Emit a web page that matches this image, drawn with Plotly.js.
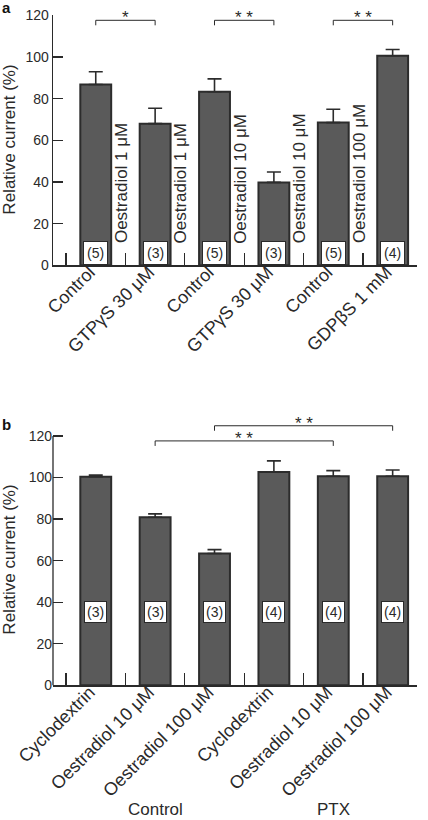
<!DOCTYPE html>
<html>
<head>
<meta charset="utf-8">
<script src="https://cdn.plot.ly/plotly-3.0.1.min.js"></script>
<style>html,body{margin:0;padding:0;background:#fff;}#chart{width:428px;height:820px;}</style>
</head>
<body>
<div id="chart"></div>
<script>
// ---- Panel a data ----
const catsA = ['Control', 'GTPγS 30 μM', 'Control', 'GTPγS 30 μM', 'Control', 'GDPβS 1 mM'];
const valsA = [86.8, 68.0, 83.3, 39.8, 68.5, 100.6];
const errA = [6.1, 7.4, 6.2, 5.0, 6.4, 3.0];
const nA = ['(5)', '(3)', '(5)', '(3)', '(5)', '(4)'];
const treatA = ['Oestradiol 1 μM', 'Oestradiol 1 μM', 'Oestradiol 10 μM', 'Oestradiol 10 μM', 'Oestradiol 100 μM', 'Oestradiol 100 μM'];
const sigFromA = [0, 2, 4];
const sigToA = [1, 3, 5];
const sigLevelA = [117.6, 117.6, 117.6];
const sigTextA = ['*', '* *', '* *'];

// ---- Panel b data ----
const catsB = ['Cyclodextrin', 'Oestradiol 10 μM', 'Oestradiol 100 μM', 'Cyclodextrin', 'Oestradiol 10 μM', 'Oestradiol 100 μM'];
const valsB = [100.4, 80.9, 63.4, 102.7, 100.6, 100.6];
const errB = [0.8, 1.6, 1.9, 5.3, 2.7, 3.0];
const nB = ['(3)', '(3)', '(3)', '(4)', '(4)', '(4)'];
const sigFromB = [1, 2];
const sigToB = [4, 5];
const sigLevelB = [117.6, 124.9];
const sigTextB = ['* *', '* *'];
const groupNames = ['Control', 'PTX'];
const groupCenters = [1, 4];

const yTicks = [0, 20, 40, 60, 80, 100, 120];
const yTitle = 'Relative current (%)';

// ---- layout geometry ----
const W = 428, H = 820, ML = 53.3, MR = 11.3;
const plotW = W - ML - MR;
const xRange = [-0.72, 5.41];
const domA = [1 - 265.3 / H, 1 - 15.3 / H];
const domB = [1 - 685.3 / H, 1 - 411.0 / H];
const yRangeA = [0, 120];
const yRangeB = [0, 132];
const xp = px => (px - ML) / plotW;
const yp = py => 1 - py / H;

const FONT = 'Liberation Sans, Arial, Helvetica, sans-serif';
const INK = '#2a2a2a';
const BAR = '#5a5a5a';
const EDGE = '#2c2c2c';

const idx = catsA.map((_, i) => i);
const bounds = idx.slice(0, -1).map(i => i - 0.5).concat([idx.length - 1.5]);

function barTrace(vals, errs, xa, ya) {
  return {
    type: 'bar', x: idx, y: vals, xaxis: xa, yaxis: ya, width: 0.52,
    marker: {color: BAR, line: {color: EDGE, width: 2}},
    error_y: {type: 'data', symmetric: false, array: errs, arrayminus: errs.map(() => 0),
              color: EDGE, thickness: 1.6, width: 7},
    hoverinfo: 'skip', showlegend: false
  };
}

function xAxis(labels, anchor) {
  return {
    domain: [0, 1], anchor: anchor, range: xRange, fixedrange: true,
    tickmode: 'array', tickvals: idx, ticktext: labels, ticks: '',
    tickangle: -45, tickfont: {family: FONT, size: 18, color: INK},
    ticklabelshift: -6, ticklabelstandoff: -12,
    showline: true, linecolor: INK, linewidth: 1.3, showgrid: false, zeroline: false,
    minor: {tickmode: 'array', tickvals: bounds, ticks: 'inside', ticklen: 12, tickwidth: 1.2, tickcolor: INK, showgrid: false}
  };
}

function yAxis(dom, range, anchor, showline) {
  return {
    domain: dom, anchor: anchor, range: range, fixedrange: true,
    tickmode: 'array', tickvals: yTicks, ticks: 'inside', ticklen: 10, tickwidth: 1.2, tickcolor: INK,
    tickfont: {family: FONT, size: 14, color: INK},
    showline: showline, linecolor: INK, linewidth: 1.3, showgrid: false, zeroline: false
  };
}

const shapes = [];
const annotations = [];

function bracket(from, to, level, text, xa, ya) {
  shapes.push({
    type: 'path', xref: xa, yref: ya, layer: 'above',
    path: `M ${from},${level - 2.4} L ${from},${level} L ${to},${level} L ${to},${level - 2.4}`,
    line: {color: INK, width: 1}
  });
  annotations.push({
    xref: xa, yref: ya, x: (from + to) / 2, y: level + 1.2, yanchor: 'middle', xanchor: 'center',
    text: text, showarrow: false, font: {family: FONT, size: 17, color: INK}
  });
}

sigFromA.forEach((f, k) => bracket(f, sigToA[k], sigLevelA[k], sigTextA[k], 'x', 'y'));
sigFromB.forEach((f, k) => bracket(f, sigToB[k], sigLevelB[k], sigTextB[k], 'x2', 'y2'));

// y axis line of panel b only up to the top tick
const topTick = yTicks[yTicks.length - 1];
shapes.push({
  type: 'line', xref: 'paper', yref: 'paper', x0: 0, x1: 0,
  y0: domB[0], y1: domB[0] + (topTick - yRangeB[0]) / (yRangeB[1] - yRangeB[0]) * (domB[1] - domB[0]),
  line: {color: INK, width: 1.3}
});

// n labels
nA.forEach((t, i) => annotations.push({
  xref: 'x', yref: 'y', x: i, y: 5.8, text: t, showarrow: false,
  font: {family: FONT, size: 14, color: INK}, bgcolor: '#fff', bordercolor: INK, borderwidth: 1, borderpad: 3
}));
nB.forEach((t, i) => annotations.push({
  xref: 'x2', yref: 'y2', x: i, y: 35.4, text: t, showarrow: false,
  font: {family: FONT, size: 14, color: INK}, bgcolor: '#fff', bordercolor: INK, borderwidth: 1, borderpad: 2
}));

// rotated treatment labels (panel a)
treatA.forEach((t, i) => annotations.push({
  xref: 'x', yref: 'y', x: i + 0.435, y: 9.5, xanchor: 'center', yanchor: 'bottom',
  textangle: -90, text: t, showarrow: false, font: {family: FONT, size: 17, color: INK}
}));

// group labels (panel b)
groupNames.forEach((g, k) => annotations.push({
  xref: 'x2', yref: 'paper', x: groupCenters[k], y: 0, yanchor: 'bottom', borderpad: 0,
  text: g, showarrow: false, font: {family: FONT, size: 17, color: INK}
}));

// y titles
[[domA, 140], [domB, 560]].forEach(([d, cy]) => annotations.push({
  xref: 'paper', yref: 'paper', x: xp(9), y: yp(cy), xanchor: 'center', yanchor: 'middle',
  textangle: -90, text: yTitle, showarrow: false, font: {family: FONT, size: 17, color: INK}
}));

// panel letters
[['a', 7], ['b', 424]].forEach(([l, cy]) => annotations.push({
  xref: 'paper', yref: 'paper', x: xp(0), y: yp(cy), xanchor: 'left', yanchor: 'middle',
  text: '<b>' + l + '</b>', showarrow: false, font: {family: FONT, size: 15, color: '#111'}
}));

const data = [barTrace(valsA, errA, 'x', 'y'), barTrace(valsB, errB, 'x2', 'y2')];

const layout = {
  width: W, height: H,
  margin: {l: ML, r: MR, t: 0, b: 0, pad: 0, autoexpand: false},
  paper_bgcolor: '#fff', plot_bgcolor: 'rgba(0,0,0,0)',
  showlegend: false,
  font: {family: FONT, color: INK},
  xaxis: xAxis(catsA, 'y'),
  yaxis: yAxis(domA, yRangeA, 'x', true),
  xaxis2: xAxis(catsB, 'y2'),
  yaxis2: yAxis(domB, yRangeB, 'x2', false),
  shapes: shapes,
  annotations: annotations
};

Plotly.newPlot('chart', data, layout, {displayModeBar: false, staticPlot: true});
</script>
</body>
</html>
